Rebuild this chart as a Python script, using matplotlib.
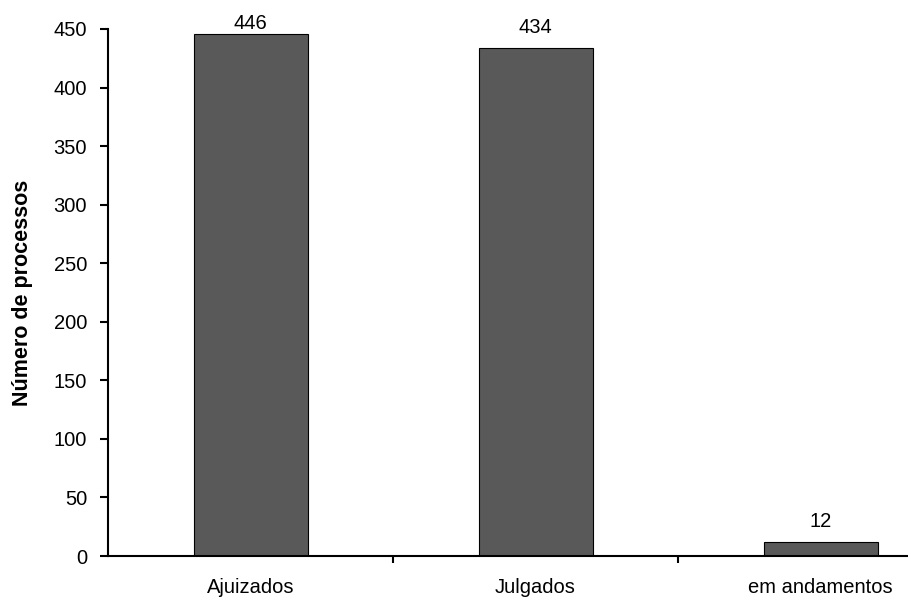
import matplotlib
matplotlib.use("Agg")
import matplotlib.pyplot as plt
import numpy as np

# Processos por situação
categorias = ["Ajuizados", "Julgados", "em andamentos"]
valores = [446, 434, 12]

plt.rcParams["font.family"] = ["Liberation Sans", "DejaVu Sans"]

fig = plt.figure(figsize=(9.08, 5.99), dpi=100)
# the x axis runs on past the right edge of the figure
ax = fig.add_axes([108 / 908, 43 / 599, 855 / 908, 527 / 599])

x = np.arange(len(categorias))
ax.bar(x, valores, width=0.4, color="#595959", edgecolor="black", linewidth=0.8)

ax.set_xlim(-0.5, 2.5)
ax.set_ylim(0, 450)
ax.set_yticks(np.arange(0, 451, 50))

ax.set_xticks(x)
ax.set_xticklabels(categorias)
ax.set_xticks([0.5, 1.5], minor=True)
ax.tick_params(axis="x", which="major", length=0, pad=15.5, labelsize=14.5)
ax.tick_params(axis="x", which="minor", length=5, width=1.5, direction="out")
ax.tick_params(axis="y", length=6, width=1.5, direction="out", pad=9, labelsize=14.5)

for s in ["top", "right"]:
    ax.spines[s].set_visible(False)
for s in ["left", "bottom"]:
    ax.spines[s].set_linewidth(1.5)

ax.set_ylabel("Número de processos", fontsize=15.5, fontweight="bold")
ax.yaxis.set_label_coords(-0.088, 0.5)

# value labels above the bars, kept inside the plot area
for xi, v in zip(x, valores):
    ax.text(xi, min(v + 13, 450), str(v), ha="center", va="baseline",
            fontsize=14.5, clip_on=False)

fig.savefig("out.png", dpi=100)
